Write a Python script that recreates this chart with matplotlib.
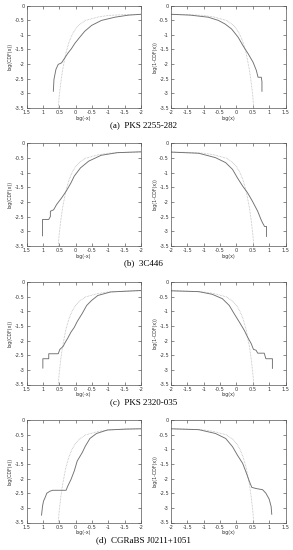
import matplotlib
matplotlib.use("Agg")
import matplotlib.pyplot as plt

plt.rcParams['axes.unicode_minus'] = False

# reference (dotted) curve: log|x| vs log CDF
ref_logx = [-2.0, -1.5, -1.0, -0.7, -0.5, -0.3, -0.1, 0.0, 0.1, 0.2, 0.3, 0.4, 0.45, 0.5, 0.53]
ref_logp = [-0.30, -0.31, -0.34, -0.39, -0.45, -0.51, -0.67, -0.80, -0.98, -1.25, -1.64, -2.22, -2.62, -3.10, -3.50]

sources = ["PKS 2255-282", "3C446", "PKS 2320-035", "CGRaBS J0211+1051"]
letters = ["a", "b", "c", "d"]

# left panels: log(-x), log(CDF(x))
left_x = [
    [0.68, 0.66, 0.60, 0.53, 0.43, 0.33, 0.23, 0.13, 0.02, -0.13, -0.28, -0.49, -0.79, -1.20, -1.61, -2.0],
    [1.01, 1.01, 0.82, 0.77, 0.77, 0.67, 0.58, 0.43, 0.29, 0.14, 0.04, -0.15, -0.40, -0.78, -1.27, -2.0],
    [1.0, 1.0, 0.82, 0.82, 0.53, 0.48, 0.38, 0.33, 0.24, 0.14, 0.04, -0.05, -0.20, -0.34, -0.49, -0.68, -1.07, -2.0],
    [1.04, 1.01, 0.98, 0.92, 0.88, 0.78, 0.70, 0.29, 0.24, 0.14, 0.04, -0.05, -0.20, -0.30, -0.44, -0.64, -0.98, -1.56, -2.0],
]
left_y = [
    [-2.93, -2.52, -2.18, -2.01, -1.96, -1.79, -1.62, -1.48, -1.29, -1.08, -0.88, -0.68, -0.51, -0.40, -0.33, -0.30],
    [-3.16, -2.60, -2.60, -2.50, -2.32, -2.27, -2.09, -1.87, -1.64, -1.35, -1.12, -0.84, -0.61, -0.41, -0.32, -0.29],
    [-2.94, -2.62, -2.62, -2.45, -2.45, -2.30, -2.20, -2.09, -1.92, -1.71, -1.55, -1.35, -1.08, -0.80, -0.63, -0.46, -0.34, -0.29],
    [-3.25, -2.94, -2.77, -2.62, -2.50, -2.43, -2.40, -2.40, -2.26, -2.03, -1.74, -1.40, -1.12, -0.89, -0.63, -0.46, -0.34, -0.31, -0.30],
]

# right panels: log(x), log(1-CDF(x))
right_x = [
    [-2.0, -1.4, -0.86, -0.55, -0.35, -0.15, 0.05, 0.20, 0.36, 0.51, 0.61, 0.66, 0.76, 0.78, 0.78],
    [-2.0, -1.15, -0.64, -0.33, -0.12, 0.03, 0.19, 0.34, 0.49, 0.65, 0.75, 0.80, 0.86, 0.92, 0.92],
    [-2.0, -1.15, -0.74, -0.43, -0.22, -0.07, 0.09, 0.24, 0.34, 0.45, 0.52, 0.60, 0.65, 0.85, 0.90, 1.10, 1.10],
    [-2.0, -1.15, -0.64, -0.33, -0.12, 0.03, 0.19, 0.29, 0.40, 0.47, 0.60, 0.80, 0.90, 1.00, 1.06, 1.08],
]
right_y = [
    [-0.30, -0.33, -0.40, -0.51, -0.63, -0.80, -1.08, -1.37, -1.65, -1.94, -2.22, -2.45, -2.45, -2.60, -2.93],
    [-0.30, -0.34, -0.49, -0.66, -0.89, -1.18, -1.46, -1.69, -1.98, -2.32, -2.60, -2.72, -2.84, -2.84, -3.18],
    [-0.30, -0.33, -0.42, -0.57, -0.80, -1.08, -1.37, -1.65, -1.88, -2.10, -2.30, -2.33, -2.43, -2.43, -2.62, -2.62, -2.95],
    [-0.30, -0.33, -0.46, -0.63, -0.91, -1.20, -1.48, -1.77, -2.11, -2.30, -2.34, -2.38, -2.50, -2.70, -2.95, -3.22],
]

W, H = 293, 550
fig = plt.figure(figsize=(W / 100, H / 100), dpi=100)

tops_px = [5.5, 143.3, 282.0, 420.0]
caption_px = [125.0, 263.0, 402.0, 540.0]
ax_h_px = 102.5
ax_w_px = 114.5
lefts_px = [26.5, 171.0]

solid_color = "#707070"
dot_color = "#b4b4b4"
tick_fs = 3.6


def style(ax, inverted, xl, yl):
    ax.set_ylim(-3.5, 0)
    ax.set_yticks([0, -0.5, -1, -1.5, -2, -2.5, -3, -3.5])
    ax.set_yticklabels(["0", "-0.5", "-1", "-1.5", "-2", "-2.5", "-3", "-3.5"])
    ticks = [1.5, 1, 0.5, 0, -0.5, -1, -1.5, -2]
    ax.set_xticks(ticks)
    ax.set_xticklabels(["1.5", "1", "0.5", "0", "-0.5", "-1", "-1.5", "-2"])
    if inverted:
        ax.set_xlim(1.5, -2)
    else:
        ax.set_xlim(-2, 1.5)
    ax.tick_params(direction="in", length=2.2, width=0.4, labelsize=tick_fs,
                   top=True, right=True, pad=1.5, colors="#333333")
    for s in ax.spines.values():
        s.set_linewidth(0.5)
        s.set_color("#555555")
    ax.set_xlabel(xl, fontsize=3.4, labelpad=0.5, color="#333333")
    ax.set_ylabel(yl, fontsize=3.4, labelpad=1.5, color="#333333")


for r in range(4):
    bottom = 1 - (tops_px[r] + ax_h_px) / H
    axl = fig.add_axes([lefts_px[0] / W, bottom, ax_w_px / W, ax_h_px / H])
    axl.plot(ref_logx, ref_logp, linestyle=(0, (0.8, 1.0)), color=dot_color, lw=0.6)
    axl.plot(left_x[r], left_y[r], color=solid_color, lw=0.65)
    style(axl, True, "log(-x)", "log(CDF(x))")

    axr = fig.add_axes([lefts_px[1] / W, bottom, ax_w_px / W, ax_h_px / H])
    axr.plot(ref_logx, ref_logp, linestyle=(0, (0.8, 1.0)), color=dot_color, lw=0.6)
    axr.plot(right_x[r], right_y[r], color=solid_color, lw=0.65)
    style(axr, False, "log(x)", "log(1-CDF(x))")

    fig.text(0.49, 1 - caption_px[r] / H, "(%s)  %s" % (letters[r], sources[r]),
             ha="center", va="center", fontsize=6.5, family="Liberation Serif")

fig.savefig("out.png", dpi=100, facecolor="white")
